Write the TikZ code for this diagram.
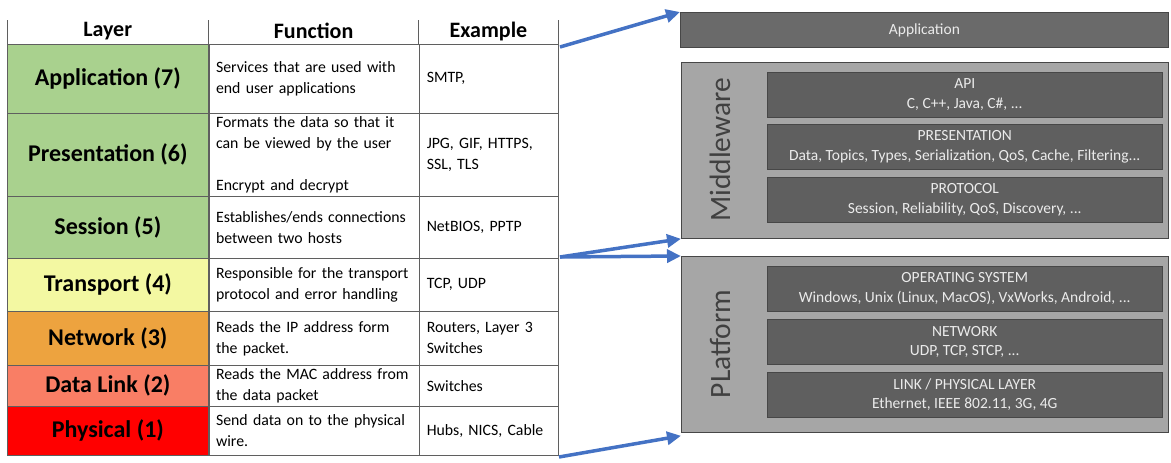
\documentclass[tikz,border=0pt]{standalone}
\usepackage{fontspec}
\setmainfont{Carlito}
\usetikzlibrary{positioning, arrows.meta}
\definecolor{GridGray}  {HTML}{5F5F5F}
\definecolor{LayGreen}  {HTML}{A9D18E}
\definecolor{LayYellow} {HTML}{F3F8A2}
\definecolor{LayOrange} {HTML}{EDA33F}
\definecolor{LaySalmon} {HTML}{F97E65}
\definecolor{LayRed}    {HTML}{FF0000}
\definecolor{BarDark}   {HTML}{5F5F5F}
\definecolor{BarApp}    {HTML}{6A6A6A}
\definecolor{BarEdge}   {HTML}{474747}
\definecolor{BoxLight}  {HTML}{A6A6A6}
\definecolor{BarText}   {HTML}{EBEBEB}
\definecolor{ArrBlue}   {HTML}{4472C4}

\begin{document}
\begin{tikzpicture}[x=1pt, y=-1pt,
    gridline/.style={draw=GridGray, line width=0.7pt},
    laycell/.style={gridline, anchor=north west, minimum width=201pt,
      inner sep=0pt, font=\fontsize{24}{28}\selectfont\bfseries},
    funcell/.style={gridline, anchor=north west, text width=196pt,
      inner xsep=7pt, inner ysep=0pt, align=left,
      font=\fontsize{15.8}{21}\selectfont},
    excell/.style={funcell, text width=125pt},
    headcell/.style={anchor=north west, minimum height=26pt, inner sep=0pt,
      font=\fontsize{22}{24}\selectfont\bfseries},
    outerbox/.style={fill=BoxLight, draw=BarEdge, line width=0.8pt,
      anchor=north west, minimum width=487pt, minimum height=176pt},
    innerbar/.style={fill=BarDark, draw=BarEdge, line width=0.5pt,
      anchor=north west, minimum width=395pt, minimum height=45pt,
      text=BarText, align=center, inner sep=0pt,
      font=\fontsize{15.5}{19.5}\selectfont},
    sidelabel/.style={rotate=90, text=black!75,
      font=\fontsize{29.5}{31}\selectfont},
    bluearrow/.style={draw=ArrBlue, line width=3.5pt,
      -{Triangle[length=14pt, width=13pt]}}]
  \useasboundingbox (0,0) rectangle (1171,463);

  % OSI table
  \node[headcell, minimum width=201pt] (hLayer) at (7,18) {Layer};
  \node[headcell, minimum width=210pt, right=0pt of hLayer] (hFunction) {Function};
  \node[headcell, minimum width=139pt, right=0pt of hFunction] (hExample) {Example};
  \draw[gridline] ([yshift=-2pt]hLayer.north west) -- (hLayer.south west)
    -- (hExample.south east) -- ([yshift=-2pt]hExample.north east);
  \draw[gridline] ([yshift=-2pt]hLayer.north east) -- (hLayer.south east);
  \draw[gridline] ([yshift=-2pt]hFunction.north east) -- (hFunction.south east);

  \foreach \nm/\rowy/\rowh/\col/\lay/\fun/\ex in {
      app/44/69pt/LayGreen/{Application (7)}/{Services that are used with\\end user applications}/{SMTP,},
      pres/113/83pt/LayGreen/{Presentation (6)}/{Formats the data so that it\\can be viewed by the user\\[21pt]Encrypt and decrypt}/{JPG, GIF, HTTPS,\\SSL, TLS},
      sess/196/62pt/LayGreen/{Session (5)}/{Establishes/ends connections\\between two hosts}/{NetBIOS, PPTP},
      trans/258/53pt/LayYellow/{Transport (4)}/{Responsible for the transport\\protocol and error handling}/{TCP, UDP},
      net/311/54pt/LayOrange/{Network (3)}/{Reads the IP address form\\the packet.}/{Routers, Layer 3\\Switches},
      dl/365/41pt/LaySalmon/{Data Link (2)}/{Reads the MAC address from\\the data packet}/{Switches},
      phy/406/49pt/LayRed/{Physical (1)}/{Send data on to the physical\\wire.}/{Hubs, NICS, Cable}} {
    \node[laycell, fill=\col, minimum height=\rowh] (\nm-l) at (7,\rowy) {\lay};
    \node[funcell, minimum height=\rowh] (\nm-f) at (\nm-l.north east) {\fun};
    \node[excell, minimum height=\rowh] (\nm-e) at (\nm-f.north east) {\ex};
  }

  % stack on the right
  \node[fill=BarApp, draw=BarEdge, line width=0.8pt, anchor=north west,
        minimum width=488pt, minimum height=35pt, text=BarText,
        font=\fontsize{15.5}{18}\selectfont] (appbar) at (680,12) {Application};

  \node[outerbox] (mw) at (681,62) {};
  \node[sidelabel] (mwlabel) at (720,150) {Middleware};
  \node[innerbar] (api) at (767,72) {API\\C, C++, Java, C\#, ...};
  \node[innerbar] (presbar) at (767,124)
    {PRESENTATION\\Data, Topics, Types, Serialization, QoS, Cache, Filtering...};
  \node[innerbar] (protbar) at (767,177)
    {PROTOCOL\\Session, Reliability, QoS, Discovery, ...};

  \node[outerbox] (pf) at (681,256) {};
  \node[sidelabel] (pflabel) at (720,344) {PLatform};
  \node[innerbar] (osbar) at (767,266)
    {OPERATING SYSTEM\\Windows, Unix (Linux, MacOS), VxWorks, Android, ...};
  \node[innerbar] (netbar) at (767,319) {NETWORK\\UDP, TCP, STCP, ...};
  \node[innerbar] (linkbar) at (767,372)
    {LINK / PHYSICAL LAYER\\Ethernet, IEEE 802.11, 3G, 4G};

  % arrows
  \coordinate (aTop) at (560,47);
  \coordinate (aMid) at (560,257);
  \coordinate (aBot) at (560,457);
  \draw[bluearrow] (aTop) -- (appbar.north west);
  \draw[bluearrow] (aMid) -- (mw.south west);
  \draw[bluearrow] (aMid) -- (pf.north west);
  \draw[bluearrow] ([xshift=-1pt]aBot) -- ([yshift=-3pt]pf.south west);
\end{tikzpicture}
\end{document}
